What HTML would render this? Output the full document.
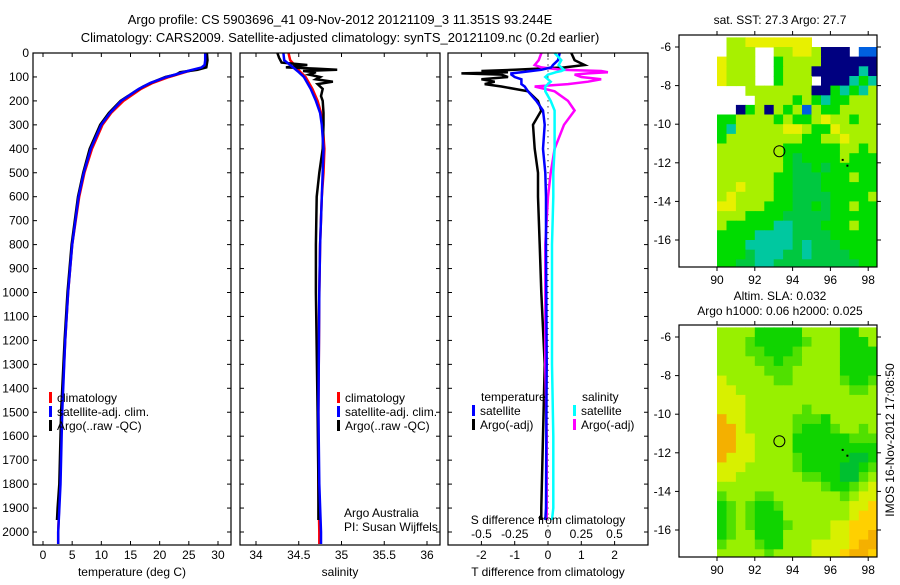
<!DOCTYPE html>
<html><head><meta charset="utf-8">
<style>
html,body{margin:0;padding:0;background:#fff;}
svg text{font-family:"Liberation Sans",sans-serif;font-size:12px;fill:#000;}
</style></head>
<body>
<svg id="fig" width="900" height="580" viewBox="0 0 900 580" xmlns="http://www.w3.org/2000/svg">
<defs>
<clipPath id="clipTop"><rect x="679" y="35" width="198" height="232"/></clipPath>
<clipPath id="clipBot"><rect x="679" y="325" width="198" height="232"/></clipPath>
</defs>
<text x="340" y="24" text-anchor="middle" style="font-size:13px">Argo profile: CS 5903696_41 09-Nov-2012 20121109_3 11.351S 93.244E</text>
<text x="340" y="42" text-anchor="middle" style="font-size:13px">Climatology: CARS2009. Satellite-adjusted climatology: synTS_20121109.nc (0.2d earlier)</text>
<text x="780" y="24" text-anchor="middle">sat. SST: 27.3 Argo: 27.7</text>
<text x="780" y="300" text-anchor="middle">Altim. SLA: 0.032</text>
<text x="780" y="315" text-anchor="middle">Argo h1000: 0.06 h2000: 0.025</text>
<text transform="translate(894,440) rotate(-90)" text-anchor="middle">IMOS 16-Nov-2012 17:08:50</text>
</svg>
<script>
// ---- profile data (depth in m) ----
const tDepth=[0,30,50,60,75,100,125,150,200,250,300,400,500,600,800,1000,1200,1500,1800,2000,2050];
const tClim=[27.9,27.9,27.8,27.4,25.0,21.6,18.8,16.8,13.8,11.7,10.2,8.4,7.1,6.2,5.0,4.3,3.8,3.2,2.9,2.6,2.6];
const tSat=[27.8,27.8,27.7,27.2,24.8,21.2,18.4,16.4,13.4,11.5,10.0,8.2,7.0,6.1,5.0,4.3,3.8,3.3,3.0,2.6,2.6];
const tArgoDepth=[0,30,60,70,80,90,100,110,125,140,160,200,250,300,400,500,600,800,1000,1200,1500,1800,1900,1950];
const tArgo=[28.1,28.2,28.0,26.5,23.5,22.8,21.0,20.0,18.5,17.2,15.8,13.3,11.3,9.8,8.0,6.9,6.0,4.9,4.2,3.7,3.1,2.8,2.5,2.4];

const sDepth=[0,30,50,80,100,150,200,250,300,400,500,600,800,1000,1500,1800,2000,2050];
const sClim=[34.38,34.40,34.45,34.52,34.58,34.66,34.72,34.76,34.78,34.80,34.79,34.77,34.75,34.74,34.73,34.73,34.74,34.74];
const sSat=[34.32,34.33,34.40,34.50,34.56,34.64,34.70,34.75,34.77,34.79,34.78,34.77,34.75,34.74,34.73,34.74,34.76,34.76];
const sArgoDepth=[0,20,40,50,55,60,65,70,75,80,90,100,110,120,130,150,180,200,250,300,400,500,600,800,1000,1500,1800,1950];
const sArgo=[34.25,34.27,34.30,34.60,34.45,34.35,34.70,34.95,34.55,34.70,34.62,34.75,34.70,34.90,34.72,34.78,34.76,34.78,34.79,34.79,34.78,34.74,34.71,34.70,34.70,34.72,34.73,34.73];

const dDepth=[0,30,50,60,70,75,80,85,90,100,110,120,130,140,160,200,240,300,400,500,600,800,1000,1300,1600,1900,1950];
const dTArgo=[0.7,0.8,1.1,0.5,-1.0,-2.0,-1.2,-2.6,-1.4,-1.2,-2.0,-1.6,-1.9,-1.4,-0.6,-0.3,-0.2,-0.45,-0.4,-0.3,-0.3,-0.25,-0.2,-0.1,-0.15,-0.2,-0.2];
const dTSat=[0.35,0.3,0.15,0.1,-0.2,-0.5,-0.8,-1.1,-1.1,-1.0,-0.8,-0.8,-0.8,-0.7,-0.6,-0.35,-0.15,-0.1,-0.15,-0.08,-0.06,-0.06,-0.05,-0.04,-0.05,-0.06,-0.08];
const dSSat=[0.05,0.1,0.08,0.1,0.12,0.1,0.06,0.03,0.0,-0.02,0.0,0.02,0.0,-0.02,-0.02,0.02,0.05,0.05,0.05,0.04,0.04,0.03,0.03,0.03,0.04,0.04,0.03];
const dSArgo=[-0.05,-0.07,-0.1,-0.05,0.1,0.4,0.45,0.3,0.2,0.25,0.4,0.3,0.15,-0.1,0.05,0.15,0.2,0.12,0.05,0.02,0.0,-0.02,-0.02,-0.02,-0.01,-0.01,-0.01];

const depthTicks=[0,100,200,300,400,500,600,700,800,900,1000,1100,1200,1300,1400,1500,1600,1700,1800,1900,2000];
const tTicks=[0,5,10,15,20,25,30];
const sTicks=[34,34.5,35,35.5,36];
const dTTicks=[-2,-1,0,1,2];
const dSTicks=[-0.5,-0.25,0,0.25,0.5];
const dSTickLabels=['-0.5','-0.25','0','0.25','0.5'];

// ---- map data (0.5 deg cells, lon 90..98.5, lat -5.5..-17.5) ----
const sstRows=[
"WLLYYYYYYYWWWWWWW","WLLLWWLLYYLNNNWBB","YLLLWWGLLLLNNNNNN","YLLLWWGLLLNNNNNCN",
"YLLLWWGLLLWNNNCGC","WWWLLLLLLLNNGCGCL","WWWWLLLLGLGCGGLLL","WWNGLNLGLBLGGLLLL",
"GGLLLLGLGGLYLLGLL","GCLLLLLYYLGGYLLLL","GLLLLLLLLGGLLYLLL","LLLLLLLGGGGGGLLGL",
"LLLLLLLGDGGGGLGGG","LLLLLLLGDDGDGGGGG","LLLLLLGGDDDGGGLGG","LLYLLLGGDDDGGGGGG",
"LYLLLLGGDDDDGGGGL","YYLLLGGGDDGDGGLGG","LLLGGGGDDDDDGGGGG","LGGGGGCCDDDGGGLGG",
"GGGGCCCCDDDDGGGGG","GGGCCCCCDCDDDGGGG","GGGDCCCDDCDDDDGGG","GGDDCCDDDDDDDDDGG"];
const sstColors={W:'#ffffff',Y:'#e8f000',L:'#a8f000',G:'#00dc00',D:'#00c840',C:'#00c8a0',N:'#000080',B:'#0060e0'};
const slaRows=[
"LLLLGGGGGLLLLGGLL","LLLMGGGGGMLLLGGGL","LLLMMGGGMLLLLGGGG","LLLLMMGMMLLLLGGGG",
"LLLLLMMMLLLLLGGGG","YLLLLLMMLLLLLMGGM","YYLLLLLLLLLLLLMML","YYYLLLLLLLLLLLLLL",
"YYYLLLLLLMLLLLLLL","OYYLLLLLMMMGLLLLL","OOYLLLLLMGGGMLLML","OOYYLLLLGGGGGGMMM",
"OOYYLLLLGGGGGGGGG","OYYYLLLLMGGGGGDDG","YYYLLLLLMGGGGDDGM","YYLLLLLLLMMGGDDML",
"LLLLLLLLLLLMGGMLY","MLLLMMLLLLLLLMLYY","GMLMGGMLLLLLLLYYQ","GMLMGGGLLLLLLLYQQ",
"GMLMGGGMLLLLYYQQQ","GMLLGGGLLLLLYYQQO","MLLLMGGLLLYYYYQOO","LLLLLMLLLLYYYQOOQ"];
const slaColors={L:'#98f000',M:'#50e000',G:'#10d400',D:'#00c030',Y:'#d8f000',Q:'#ffd000',O:'#f4b000'};
const argoLon=93.3, argoLat=-11.4;
const dotLon=[96.9,96.65], dotLat=[-12.15,-11.85];
const lonTicks=[90,92,94,96,98];
const latTicks=[-6,-8,-10,-12,-14,-16];

const NS='http://www.w3.org/2000/svg';
const svg=document.getElementById('fig');
function mk(tag,attrs,parent){const e=document.createElementNS(NS,tag);for(const k in attrs)e.setAttribute(k,attrs[k]);(parent||svg).appendChild(e);return e;}
function txt(s,x,y,anchor,parent){const t=mk('text',{x:x,y:y,'text-anchor':anchor||'start'},parent);t.textContent=s;return t;}

const Y0=53, YB=545;
const dY=d=>Y0+d*0.2395;

function panel(name){
  const g=mk('g',{});
  
  
  return g;
}
function frame(g,x0,x1,y0,y1){
  const r=mk('rect',{x:x0,y:y0,width:x1-x0,height:y1-y0,fill:'none',stroke:'#000','stroke-width':1.2},g);
  
  
}
function depthAxis(g,x0,x1,labels){
  depthTicks.forEach(d=>{const y=dY(d);
    mk('line',{x1:x0,y1:y,x2:x0+4,y2:y,stroke:'#000'},g);
    mk('line',{x1:x1,y1:y,x2:x1-4,y2:y,stroke:'#000'},g);
    if(labels){const t=txt(String(d),x0-4,y+4,'end',g);
      
      }
  });
}
function xTicks(g,vals,fx,labY){
  vals.forEach(v=>{const x=fx(v);
    mk('line',{x1:x,y1:YB,x2:x,y2:YB-4,stroke:'#000'},g);
    mk('line',{x1:x,y1:Y0,x2:x,y2:Y0+4,stroke:'#000'},g);
    const t=txt(String(v),x,labY,'middle',g);
    
    
  });
}
function line(g,depths,vals,fx,color,w,name){
  const pts=depths.map((d,i)=>fx(vals[i]).toFixed(1)+','+dY(d).toFixed(1)).join(' ');
  const p=mk('polyline',{points:pts,fill:'none',stroke:color,'stroke-width':w||2.5},g);
  
  
}
function legend(g,x,y,color,label,name){
  mk('rect',{x:x,y:y-10,width:3,height:11,fill:color},g);
  const t=txt(label,x+8,y,'start',g);
  
  
}

// Panel 1: temperature
const p1=panel('temperature-panel');
const fT=v=>43+v*5.833;
line(p1,tDepth,tClim,fT,'#ff0000',2.5,'temperature-climatology-line');
line(p1,tArgoDepth,tArgo,fT,'#000000',2.5,'temperature-argo-line');
line(p1,tDepth,tSat,fT,'#0000ff',2.5,'temperature-satellite-line');
frame(p1,33,231,Y0,YB);
depthAxis(p1,33,231,true);
xTicks(p1,tTicks,fT,559);
let t=txt('temperature (deg C)',132,576,'middle',p1);


legend(p1,49,402,'#ff0000','climatology','legend-climatology');
legend(p1,49,416,'#0000ff','satellite-adj. clim.','legend-satellite');
legend(p1,49,430,'#000000','Argo(..raw -QC)','legend-argo');

// Panel 2: salinity
const p2=panel('salinity-panel');
const fS=v=>256+(v-34)*85.5;
line(p2,sDepth,sClim,fS,'#ff0000',2.5,'salinity-climatology-line');
line(p2,sArgoDepth,sArgo,fS,'#000000',2.5,'salinity-argo-line');
line(p2,sDepth,sSat,fS,'#0000ff',2.5,'salinity-satellite-line');
frame(p2,240,440,Y0,YB);
depthAxis(p2,240,440,false);
xTicks(p2,sTicks,fS,559);
t=txt('salinity',340,576,'middle',p2);


legend(p2,337,402,'#ff0000','climatology','legend-climatology');
legend(p2,337,416,'#0000ff','satellite-adj. clim.','legend-satellite');
legend(p2,337,430,'#000000','Argo(..raw -QC)','legend-argo');
t=txt('Argo Australia',344,517,'start',p2);


t=txt('PI: Susan Wijffels',344,531,'start',p2);



// Panel 3: differences
const p3=panel('difference-panel');
const fDT=v=>548+v*33.3;
const fDS=v=>548+v*133;
for(let d=0; d<=2000; d+=25){ mk('circle',{cx:548,cy:dY(d),r:0.6,fill:'#000'},p3); }
line(p3,dDepth,dTArgo,fDT,'#000000',2.5,'t-diff-argo-line');
line(p3,dDepth,dSArgo,fDS,'#ff00ff',2.5,'s-diff-argo-line');
line(p3,dDepth,dTSat,fDT,'#0000ff',2.5,'t-diff-satellite-line');
line(p3,dDepth,dSSat,fDS,'#00ffff',2.5,'s-diff-satellite-line');
frame(p3,448,648,Y0,YB);
depthAxis(p3,448,648,false);
xTicks(p3,dTTicks,fDT,559);
dSTicks.forEach((v,i)=>{const tt=txt(dSTickLabels[i],fDS(v),538,'middle',p3);
  
  });
t=txt('S difference from climatology',548,524,'middle',p3);


t=txt('T difference from climatology',548,576,'middle',p3);


t=txt('temperature',481,401,'start',p3);


t=txt('salinity',582,401,'start',p3);


legend(p3,472,415,'#0000ff','satellite','legend-t-satellite');
legend(p3,472,429,'#000000','Argo(-adj)','legend-t-argo');
legend(p3,573,415,'#00ffff','satellite','legend-s-satellite');
legend(p3,573,429,'#ff00ff','Argo(-adj)','legend-s-argo');

// Maps
function map(name,rows,colors,top,bottom,latRef,clip){
  const g=panel(name);
  const cg=mk('g',{'clip-path':'url(#'+clip+')'},g);
  const fx=lon=>717+(lon-90)*18.9;
  const fy=lat=>latRef+(-6-lat)*19.3;
  rows.forEach((row,r)=>{
    for(let c=0;c<row.length;c++){
      const col=colors[row[c]];
      if(col==='#ffffff')continue;
      const lon=90+c*0.5, lat=-5.5-r*0.5;
      const x=fx(lon), y=fy(lat);
      mk('rect',{x:x.toFixed(1),y:y.toFixed(1),width:(fx(lon+0.5)-x+0.5).toFixed(1),height:(fy(lat-0.5)-y+0.5).toFixed(1),fill:col},cg);
    }
  });
  frame(g,679,877,top,bottom);
  lonTicks.forEach(v=>{const x=fx(v);
    mk('line',{x1:x,y1:bottom,x2:x,y2:bottom+4,stroke:'#000'},g);
    mk('line',{x1:x,y1:top,x2:x,y2:top-4,stroke:'#000'},g);
    const tt=txt(String(v),x,bottom+17,'middle',g);
    
    });
  latTicks.forEach(v=>{const y=fy(v);
    mk('line',{x1:679,y1:y,x2:675,y2:y,stroke:'#000'},g);
    mk('line',{x1:877,y1:y,x2:881,y2:y,stroke:'#000'},g);
    const tt=txt(String(v),671,y+4,'end',g);
    
    });
  const c=mk('circle',{cx:fx(argoLon),cy:fy(argoLat),r:5.5,fill:'none',stroke:'#000','stroke-width':1},g);
  
  
  dotLon.forEach((lo,i)=>mk('rect',{x:fx(lo)-1,y:fy(dotLat[i])-1,width:2,height:2,fill:'#000'},g));
}
map('sst-map',sstRows,sstColors,35,267,47,'clipTop');
map('sla-map',slaRows,slaColors,325,557,337,'clipBot');
</script>
</body></html>
